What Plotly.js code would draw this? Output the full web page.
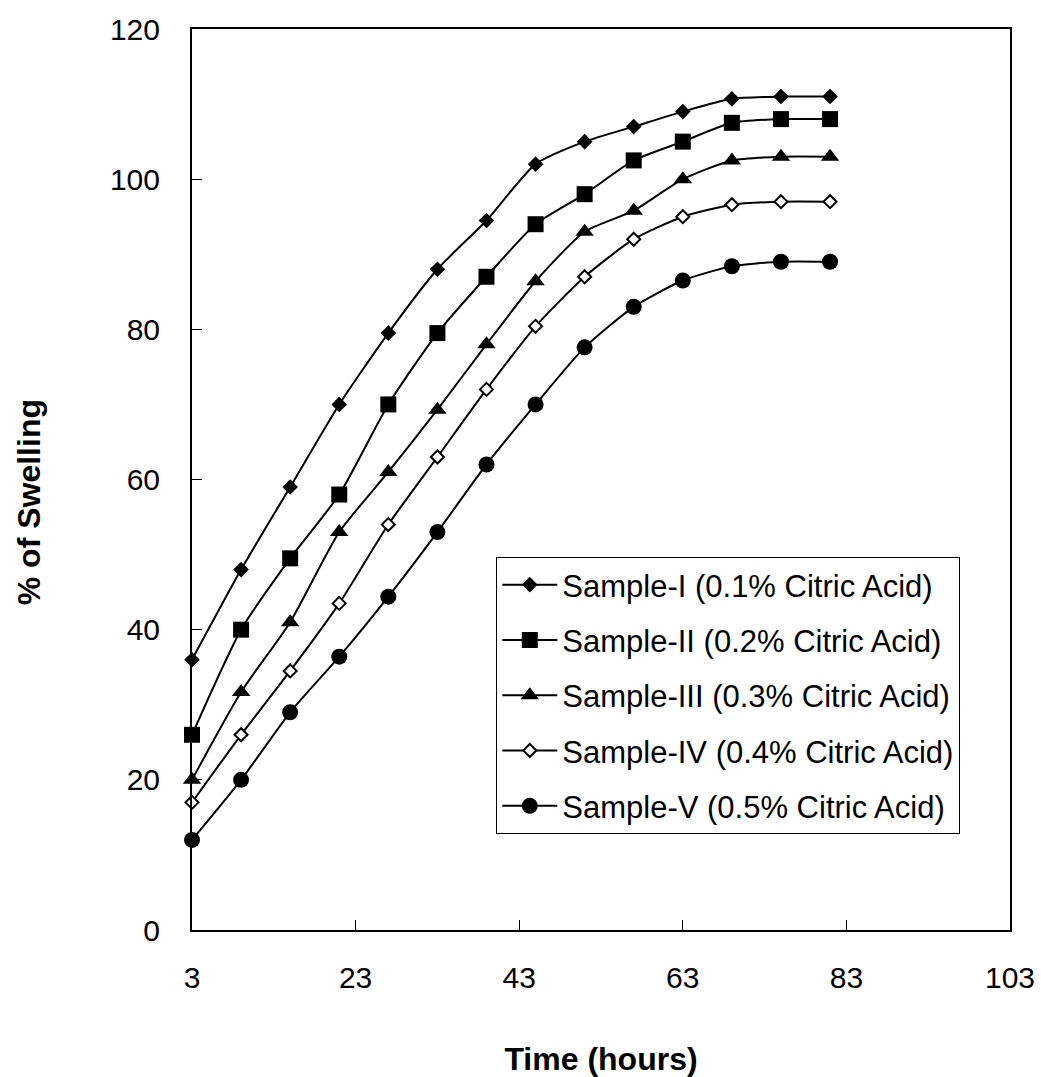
<!DOCTYPE html>
<html>
<head>
<meta charset="utf-8">
<script src="https://cdn.plot.ly/plotly-3.0.1.min.js"></script>
<style>html,body{margin:0;padding:0;background:#fff;}#chart{width:1041px;height:1077px;}</style>
</head>
<body>
<div id="chart"></div>
<script>
const timeHours = [3, 9, 15, 21, 27, 33, 39, 45, 51, 57, 63, 69, 75, 81];
const sampleI   = [36, 48, 59, 70, 79.5, 88, 94.5, 102, 105, 107, 109, 110.7, 111, 111];
const sampleII  = [26, 40, 49.5, 58, 70, 79.5, 87, 94, 98, 102.5, 105, 107.5, 108, 108];
const sampleIII = [20, 31.7, 41, 53, 61, 69.3, 78, 86.4, 93, 95.8, 100, 102.5, 103, 103];
const sampleIV  = [17, 26, 34.5, 43.5, 54, 63, 72, 80.4, 87, 92, 95, 96.6, 97, 97];
const sampleV   = [12, 20, 29, 36.4, 44.4, 53, 62, 70, 77.6, 83, 86.5, 88.4, 89, 89];
const seriesNames = [
  'Sample-I (0.1% Citric Acid)',
  'Sample-II (0.2% Citric Acid)',
  'Sample-III (0.3% Citric Acid)',
  'Sample-IV (0.4% Citric Acid)',
  'Sample-V (0.5% Citric Acid)'
];
const xTitle = 'Time (hours)';
const yTitle = '% of Swelling';

const FONT = 'Liberation Sans, Arial, sans-serif';
const series = [sampleI, sampleII, sampleIII, sampleIV, sampleV];
const markers = [
  {symbol: 'diamond', size: 12, color: '#000'},
  {symbol: 'square', size: 16, color: '#000'},
  {symbol: 'triangle-up', size: 16, color: '#000'},
  {symbol: 'diamond', size: 10, color: '#fff', line: {color: '#000', width: 2}},
  {symbol: 'circle', size: 16, color: '#000'}
];

const traces = series.map((ys, i) => ({
  x: timeHours,
  y: ys,
  name: seriesNames[i],
  legendgroup: 'g' + i,
  type: 'scatter',
  mode: 'lines+markers',
  line: {color: '#000', width: 2, shape: 'spline', smoothing: 0.6},
  marker: markers[i],
  cliponaxis: false
}));

const layout = {
  width: 1041,
  height: 1077,
  margin: {l: 192, r: 31, t: 29, b: 147},
  paper_bgcolor: '#fff',
  plot_bgcolor: '#fff',
  font: {family: FONT, color: '#000', size: 30},
  showlegend: true,
  legend: {
    x: 0.372, xanchor: 'left',
    y: 0.414, yanchor: 'top',
    bordercolor: '#000', borderwidth: 1,
    bgcolor: '#fff',
    font: {family: FONT, size: 31, color: '#000'},
    traceorder: 'grouped',
    tracegroupgap: 12,
    itemwidth: 55
  },
  xaxis: {
    range: [3, 103],
    tick0: 3, dtick: 20,
    ticks: 'inside', ticklen: 10, tickwidth: 1, tickcolor: '#000',
    showline: true, linecolor: '#000', linewidth: 2, mirror: true,
    showgrid: false, zeroline: false,
    ticklabelstandoff: 20,
    tickfont: {family: FONT, size: 30, color: '#000'},
    title: {text: xTitle, font: {family: FONT, size: 32, color: '#000', weight: 'bold'}, standoff: 55}
  },
  yaxis: {
    range: [0, 120],
    tick0: 0, dtick: 20,
    ticks: 'inside', ticklen: 10, tickwidth: 1, tickcolor: '#000',
    showline: true, linecolor: '#000', linewidth: 2, mirror: true,
    showgrid: false, zeroline: false,
    ticklabelstandoff: 24,
    tickfont: {family: FONT, size: 30, color: '#000'},
    title: {text: ''}
  },
  annotations: [{
    text: yTitle,
    xref: 'paper', yref: 'paper',
    x: -0.199, y: 0.475,
    xanchor: 'center', yanchor: 'middle',
    textangle: -90, showarrow: false,
    font: {family: FONT, size: 32, color: '#000', weight: 'bold'}
  }]
};

Plotly.newPlot('chart', traces, layout, {displayModeBar: false, staticPlot: true});
</script>
</body>
</html>
